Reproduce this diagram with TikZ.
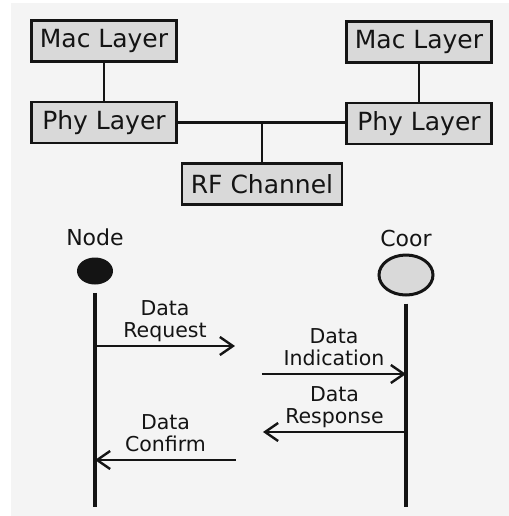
\documentclass[tikz,border=0pt]{standalone}
\usepackage{fontspec}
\setmainfont{DejaVu Sans}
\usetikzlibrary{shapes.geometric,arrows.meta,positioning}
\definecolor{BoxGray}{HTML}{D9D9D9}
\definecolor{PanelBg}{HTML}{F4F4F4}
\definecolor{InkBlack}{HTML}{141414}
\tikzset{
  layer/.style={rectangle,draw=InkBlack,line width=1.3pt,fill=BoxGray,
                minimum width=72.5pt,minimum height=20.5pt,inner sep=2pt,
                font=\fontsize{12.5}{14}\selectfont,text=InkBlack},
  link/.style={line width=1.3pt,draw=InkBlack},
  life/.style={line width=2pt,draw=InkBlack},
  msg/.style={-{Straight Barb[length=6.5pt,width=9pt]},line width=1.2pt,draw=InkBlack},
  lbl/.style={align=center,font=\fontsize{10.25}{11}\selectfont,
              text depth=0pt,inner sep=3.5pt,text=InkBlack},
  actor/.style={font=\fontsize{11}{13}\selectfont,text=InkBlack}
}
\begin{document}
\begin{tikzpicture}[x=0.5pt,y=-0.5pt]
  \useasboundingbox (0,0) rectangle (509,516);
  \fill[PanelBg] (11,3) rectangle (509,516);

  % protocol stacks
  \node[layer] (macL) at (104,41) {Mac Layer};
  \node[layer,below=19pt of macL] (phyL) {Phy Layer};
  \node[layer] (macR) at (419,42) {Mac Layer};
  \node[layer,below=19pt of macR] (phyR) {Phy Layer};
  \node[layer,minimum width=80pt] (rf) at (262,184) {RF Channel};

  \draw[link] (macL) -- (phyL);
  \draw[link] (macR) -- (phyR);
  \draw[link] (phyL.east) -- (phyL.east -| phyR.west);
  \draw[link] (rf.north) -- (rf.north |- phyL.east);

  % participants
  \node[ellipse,fill=InkBlack,minimum width=18pt,minimum height=13.5pt,inner sep=0pt] (nodeDot) at (95,271) {};
  \node[ellipse,draw=InkBlack,line width=1.5pt,fill=BoxGray,
        minimum width=27pt,minimum height=20pt,inner sep=0pt] (coorDot) at (406,275) {};
  \node[actor,above=2pt of nodeDot] (nodeName) {Node};
  \node[actor,above=0pt of coorDot] (coorName) {Coor};

  \coordinate (nodeEnd) at (95,507);
  \coordinate (coorEnd) at (406,507);
  \draw[life] ([yshift=-4pt]nodeDot.south) -- (nodeEnd);
  \draw[life] ([yshift=-3.5pt]coorDot.south) -- (coorEnd);

  % messages
  \coordinate (reqFrom) at (95,346);
  \coordinate (reqTo) at (235,346);
  \coordinate (indFrom) at (262,374);
  \coordinate (indTo) at (406,374);
  \coordinate (rspFrom) at (406,432);
  \coordinate (rspTo) at (263,432);
  \coordinate (cfmFrom) at (236,460);
  \coordinate (cfmTo) at (95,460);

  \draw[msg] (reqFrom) -- node[lbl,above] {Data\\Request} (reqTo);
  \draw[msg] (indFrom) -- node[lbl,above] {Data\\Indication} (indTo);
  \draw[msg] (rspFrom) -- node[lbl,above] {Data\\Response} (rspTo);
  \draw[msg] (cfmFrom) -- node[lbl,above] {Data\\Confirm} (cfmTo);
\end{tikzpicture}
\end{document}
